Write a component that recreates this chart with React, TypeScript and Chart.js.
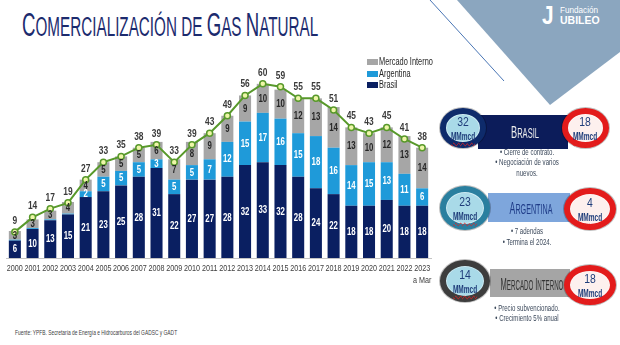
import React, { useEffect, useLayoutEffect, useRef, useState } from 'react';
import { Chart, registerables } from 'chart.js';

Chart.register(...registerables);

const FONT = "'Liberation Sans', Arial, Helvetica, sans-serif";

// ---------- data ----------
const categories = ['2000', '2001', '2002', '2003', '2004', '2005', '2006', '2007', '2008', '2009', '2010', '2011', '2012', '2013', '2014', '2015', '2016', '2017', '2018', '2019', '2020', '2021', '2022', '2023'];
const lastCategoryNote = 'a Mar';
const brasil = [6, 10, 13, 15, 21, 23, 25, 28, 31, 22, 27, 27, 28, 32, 33, 32, 28, 24, 22, 18, 18, 20, 18, 18];
const argentina = [0.3, 0.3, 0.3, 0.3, 2, 5, 5, 5, 3, 5, 5, 7, 12, 15, 17, 16, 15, 18, 16, 14, 15, 13, 11, 6];
const mercadoInterno = [3, 3, 3, 4, 4, 5, 5, 5, 6, 7, 8, 9, 9, 9, 10, 10, 12, 13, 14, 13, 10, 12, 13, 14];
const totals = [9, 14, 17, 19, 27, 33, 35, 38, 39, 33, 39, 43, 49, 56, 60, 59, 55, 55, 51, 45, 43, 45, 41, 38];
const seriesNames = ['Brasil', 'Argentina', 'Mercado Interno'];
const seriesColors = ['#0a1f61', '#1f9ad9', '#a6a6a6'];

const titleText = 'Comercialización de Gas Natural';
const sourceText = 'Fuente: YPFB. Secretaría de Energía e Hidrocarburos del GADSC y GADT';

const contractNames = ['Brasil', 'Argentina', 'Mercado Interno'];
const contractFrom = ['32', '23', '14'];
const contractTo = ['18', '4', '18'];
const contractUnit = 'MMmcd';
const contractNotes = [
  ['• Cierre de contrato.', '• Negociación de varios', 'nuevos.'],
  ['• 7 adendas', '• Termina el 2024.'],
  ['• Precio subvencionado.', '• Crecimiento 5% anual'],
];

// ---------- helpers ----------
type FitProps = {
  x: number; y: number; w?: number; sx?: number; align?: 'center' | 'left';
  style?: React.CSSProperties; children: React.ReactNode;
};
function Fit({ x, y, w, sx, align = 'center', style, children }: FitProps) {
  const ref = useRef<HTMLSpanElement>(null);
  const [scale, setScale] = useState(sx ?? 1);
  useLayoutEffect(() => {
    if (w && ref.current) {
      const n = ref.current.offsetWidth;
      if (n > 0) setScale(w / n);
    }
  }, [w]);
  const tx = align === 'center' ? '-50%' : '0px';
  return (
    <span
      ref={ref}
      style={{
        position: 'absolute', left: x, top: y, whiteSpace: 'nowrap', lineHeight: 1,
        display: 'inline-block',
        transformOrigin: align === 'center' ? 'center center' : 'left center',
        transform: `translate(${tx}, -50%) scaleX(${scale})`,
        fontFamily: FONT,
        ...style,
      }}
    >
      {children}
    </span>
  );
}

function SmallCaps({ text, big, small }: { text: string; big: number; small: number }) {
  const runs: { s: string; up: boolean }[] = [];
  for (const ch of Array.from(text)) {
    const up = ch !== ch.toLowerCase();
    const last = runs[runs.length - 1];
    if (last && last.up === up) last.s += ch;
    else runs.push({ s: ch, up });
  }
  return (
    <>
      {runs.map((r, i) => (
        <span key={i} style={{ fontSize: r.up ? big : small }}>{r.s.toUpperCase()}</span>
      ))}
    </>
  );
}

function Ring({ cx, cy, w, h, ring, fill, bw }: { cx: number; cy: number; w: number; h: number; ring: string; fill: string; bw: number }) {
  return (
    <div
      style={{
        position: 'absolute', left: cx - w / 2, top: cy - h / 2, width: w, height: h,
        boxSizing: 'border-box', borderRadius: '50%', border: `${bw}px solid ${ring}`,
        background: fill,
        boxShadow: 'inset 0 0 0 1px rgba(255,255,255,0.45), 0 0 0 1px rgba(0,0,0,0.25)',
      }}
    />
  );
}

// ---------- chart ----------
function drawText(ctx: CanvasRenderingContext2D, text: string, x: number, y: number, font: string, color: string, sx: number) {
  ctx.save();
  ctx.translate(x, y);
  ctx.scale(sx, 1);
  ctx.font = font;
  ctx.fillStyle = color;
  ctx.textAlign = 'center';
  ctx.textBaseline = 'middle';
  ctx.fillText(text, 0, 0);
  ctx.restore();
}

const labelPlugin = {
  id: 'gasLabels',
  afterDatasetsDraw(chart: any) {
    const ctx = chart.ctx as CanvasRenderingContext2D;
    for (let d = 0; d < 3; d++) {
      const meta = chart.getDatasetMeta(d);
      const ds = chart.data.datasets[d];
      meta.data.forEach((el: any, i: number) => {
        const v = ds.data[i] as number;
        if (v < 1) return;
        const p = el.getProps(['x', 'y', 'base'], true);
        drawText(ctx, String(v), p.x, (p.y + p.base) / 2, `bold 11.5px ${FONT}`, d === 2 ? '#262626' : '#ffffff', 0.68);
      });
    }
    const lm = chart.getDatasetMeta(3);
    lm.data.forEach((pt: any, i: number) => {
      drawText(ctx, String(totals[i]), pt.x, pt.y - 11, `bold 10.5px ${FONT}`, '#3a3a3a', 0.8);
    });
  },
  afterDraw(chart: any) {
    const ctx = chart.ctx as CanvasRenderingContext2D;
    const xs = chart.scales.x;
    categories.forEach((c, i) => {
      const px = xs.getPixelForTick(i);
      drawText(ctx, c, px, xs.top + 11, `9px ${FONT}`, '#404040', 0.8);
      if (i === categories.length - 1) {
        drawText(ctx, lastCategoryNote, px, xs.top + 23, `9px ${FONT}`, '#404040', 0.8);
      }
    });
  },
};

function GasChart() {
  const ref = useRef<HTMLCanvasElement>(null);
  useEffect(() => {
    if (!ref.current) return;
    const barSeries = [brasil, argentina, mercadoInterno];
    const chart = new Chart(ref.current, {
      type: 'bar',
      data: {
        labels: categories,
        datasets: [
          ...barSeries.map((data, i) => ({
            type: 'bar' as const,
            label: seriesNames[i],
            data,
            backgroundColor: seriesColors[i],
            borderWidth: 0,
            barPercentage: 0.85,
            categoryPercentage: 0.8,
            order: 1,
          })),
          {
            type: 'line' as const,
            label: 'Total',
            data: totals,
            borderColor: '#58992b',
            borderWidth: 2,
            pointRadius: 3,
            pointBackgroundColor: '#eef6a8',
            pointBorderColor: '#58992b',
            pointBorderWidth: 1.5,
            tension: 0,
            order: 0,
          },
        ] as any,
      },
      options: {
        animation: false,
        responsive: false,
        devicePixelRatio: 1,
        layout: { padding: { top: 9, left: 6, right: 9, bottom: 0 } },
        plugins: { legend: { display: false }, tooltip: { enabled: false } },
        scales: {
          x: {
            stacked: true,
            grid: { display: false, drawTicks: false },
            border: { display: true, color: '#c4c4c4', width: 1 },
            ticks: { display: false },
            afterFit: (s: any) => { s.height = 42; },
          } as any,
          y: { stacked: true, display: false, min: 0, max: 72 },
        },
      },
      plugins: [labelPlugin],
    });
    return () => chart.destroy();
  }, []);
  return <canvas ref={ref} width={440} height={260} style={{ position: 'absolute', left: 0, top: 40, width: 440, height: 260 }} />;
}

// ---------- page ----------
const rows = [
  { y: 132, band: { x: 478, w: 90, top: 115, h: 34, color: '#0c1c5a' }, left: { cx: 463, cy: 128, w: 46, h: 40, ring: '#0e2b6b' }, right: { cx: 585, cy: 128, w: 47, h: 40 }, labelColor: '#ececec', labelW: 28, notesY: [152, 162, 173] },
  { y: 208, band: { x: 488, w: 82, top: 193, h: 29, color: '#7ea6dc' }, left: { cx: 465, cy: 208, w: 50, h: 44, ring: '#2a7f9f' }, right: { cx: 590, cy: 209, w: 52, h: 42 }, labelColor: '#1f3c88', labelW: 43, notesY: [231, 242] },
  { y: 284, band: { x: 490, w: 80, top: 269, h: 28, color: '#a5a5a5' }, left: { cx: 465, cy: 281, w: 50, h: 42, ring: '#3d3d3d' }, right: { cx: 590, cy: 285, w: 52, h: 40 }, labelColor: '#333333', labelW: 63, notesY: [308, 318] },
];

export default function App() {
  const numStyle: React.CSSProperties = { fontSize: 13, color: '#1f3d7a' };
  const unitStyle: React.CSSProperties = {
    fontSize: 10.5, fontWeight: 'bold', color: '#1f3d7a',
    textDecoration: 'underline wavy #e02020', textDecorationThickness: 1, textUnderlineOffset: 2,
  };
  return (
    <div style={{ position: 'absolute', left: 0, top: 0, width: 620, height: 345, overflow: 'hidden', background: '#ffffff', fontFamily: FONT }}>
      <svg width={620} height={345} style={{ position: 'absolute', left: 0, top: 0 }}>
        <polygon points="457,0 620,0 620,52 550,105" fill="#8ba6bf" />
        <line x1={430} y1={0} x2={504} y2={81} stroke="#4a76b5" strokeWidth={1} />
      </svg>

      <Fit x={22} y={24} w={296} align="left" style={{ color: '#1c2b6e' }}>
        <SmallCaps text={titleText} big={33} small={27} />
      </Fit>

      {/* logo */}
      <Fit x={542} y={15} sx={0.8} align="left" style={{ color: '#ffffff', fontSize: 26, fontWeight: 'bold' }}>J</Fit>
      <Fit x={560} y={10} w={38} align="left" style={{ color: '#ffffff', fontSize: 9 }}>Fundación</Fit>
      <Fit x={560} y={20} w={40} align="left" style={{ color: '#ffffff', fontSize: 11, fontWeight: 'bold' }}>UBILEO</Fit>

      <GasChart />

      {/* legend */}
      {[2, 1, 0].map((s, k) => (
        <React.Fragment key={s}>
          <div style={{ position: 'absolute', left: 367, top: 62 + k * 11.5 - 3, width: 11, height: 6, background: seriesColors[s] }} />
          <Fit x={379} y={62 + k * 11.5} sx={0.74} align="left" style={{ fontSize: 10, color: '#262626' }}>{seriesNames[s]}</Fit>
        </React.Fragment>
      ))}

      {/* right panel */}
      {rows.map((r, i) => (
        <React.Fragment key={i}>
          <div style={{ position: 'absolute', left: r.band.x, top: r.band.top, width: r.band.w, height: r.band.h, background: r.band.color }} />
          <Ring cx={r.left.cx} cy={r.left.cy} w={r.left.w} h={r.left.h} ring={r.left.ring} fill="#a9dae8" bw={6} />
          <Ring cx={r.right.cx} cy={r.right.cy} w={r.right.w} h={r.right.h} ring="#e31b1b" fill="#fdf0ee" bw={6} />
          <Fit x={(r.band.x + r.band.x + r.band.w) / 2 + 2} y={r.y} w={r.labelW} style={{ color: r.labelColor }}>
            <SmallCaps text={contractNames[i]} big={17} small={14} />
          </Fit>
          <Fit x={r.left.cx} y={r.left.cy - 7} sx={0.8} style={numStyle}>{contractFrom[i]}</Fit>
          <Fit x={r.left.cx} y={r.left.cy + 8} sx={0.62} style={unitStyle}>{contractUnit}</Fit>
          <Fit x={r.right.cx} y={r.right.cy - 7} sx={0.8} style={numStyle}>{contractTo[i]}</Fit>
          <Fit x={r.right.cx} y={r.right.cy + 8} sx={0.62} style={unitStyle}>{contractUnit}</Fit>
          {contractNotes[i].map((t, j) => (
            <Fit key={j} x={527} y={r.notesY[j]} sx={0.64} style={{ fontSize: 9.5, color: '#3d4a5c' }}>{t}</Fit>
          ))}
        </React.Fragment>
      ))}

      <Fit x={15} y={333} w={162} align="left" style={{ fontSize: 8, color: '#404040' }}>{sourceText}</Fit>
    </div>
  );
}
